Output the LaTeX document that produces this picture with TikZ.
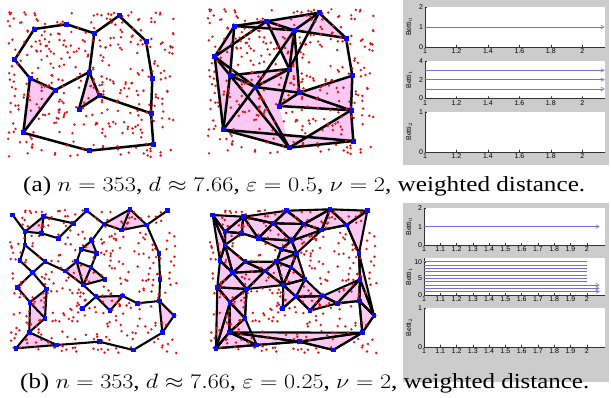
\documentclass[tikz,border=0pt]{standalone}
\usepackage[no-math]{fontspec}
\usepackage{graphicx}
\setmainfont{Liberation Serif}
\newfontfamily\axfont{Liberation Sans}
\definecolor{pinkfill}{RGB}{250,200,242}
\definecolor{dotred}{RGB}{225,20,20}
\definecolor{vtxblue}{RGB}{10,10,245}
\definecolor{figgrey}{RGB}{204,204,204}
\definecolor{barblue}{RGB}{112,112,215}

% landmark vertices, row (a) and row (b)
\newcommand{\vlista}{1/34.3/29, 2/66.7/24.3, 3/94.3/33.3, 4/119/15.7, 5/146/41, 6/152.3/78.7,
  7/151/113.3, 8/153.3/144, 9/89.3/150.7, 10/23.3/132.7, 11/30/78.3, 12/14.7/59.7,
  13/55.3/90, 14/89.3/72, 15/99.3/95.7, 16/79/109}
\newcommand{\vlistb}{1/12.7/215, 2/43.3/216.7, 3/25/231.7, 4/41.7/233.3, 5/58.3/238.3,
  6/73.3/223.3, 7/86.7/210.7, 8/104/224, 9/130/209.3, 10/121.7/230, 11/146.7/225,
  12/167.3/210.7, 13/91.7/240.7, 14/25/245, 15/81/249.3, 16/96.7/253.3, 17/20/260.7,
  18/45/261.7, 19/76.7/261.7, 21/65/271, 22/91/267.3, 23/32.7/272.7, 24/105/279.3,
  25/83.3/285, 26/17.3/287.3, 27/46.7/289, 28/159/253.3, 29/160/279.3, 30/96/296.7,
  31/122.7/296, 32/137.3/303.3, 33/159.3/301, 34/110/310.7, 35/82.7/308.3, 36/30/302.3,
  37/45/318.3, 38/174/315.7, 39/29.3/332.3, 40/162.3/332.7, 41/16/348.3, 42/56.7/345,
  43/99.3/341.7, 44/133.3/350}
\newcommand{\edgesb}{1/3, 3/2, 2/4, 3/4, 2/6, 4/5, 5/6, 6/7, 7/8, 8/9, 8/10, 9/10, 9/11,
  10/11, 11/12, 11/28, 28/29, 29/33, 33/38, 38/40, 33/40, 40/44, 44/43, 43/42, 42/41,
  41/39, 39/42, 39/37, 39/36, 36/37, 36/27, 27/37, 36/26, 26/23, 23/27, 23/17, 17/14,
  14/3, 14/18, 18/23, 18/21, 21/19, 21/25, 19/25, 19/15, 15/13, 13/8, 13/16, 15/16,
  16/22, 22/19, 22/25, 22/24, 24/25, 25/30, 30/31, 31/34, 30/34, 35/30, 31/32, 32/33}

% point cloud: seed, xmin, xmax, ymin, ymax
\newcommand{\cloud}[5]{%
  \pgfmathsetseed{#1}
  \foreach \i in {1,...,353}{
    \pgfmathsetmacro\cx{#2+rnd*(#3-#2)}
    \pgfmathsetmacro\cy{#4+rnd*(#5-#4)}
    \fill[dotred] (\cx,\cy) circle (1.35);}}

% barcode axes: top, bottom, index, yticks
\newcommand{\bettiframe}[4]{%
  \fill[white] (\xl,#1) rectangle (605,#2);
  \draw[axline] (\xl,#1) -- (\xl,#2) -- (605,#2);
  \foreach \i/\v in \xticklist{
    \draw[axline] ({\xl+\i*\xs},#2) -- ++(0,-1.8);
    \node[ticklab,anchor=north] at ({\xl+\i*\xs},{#2+1.2}) {\v};}
  \foreach \f/\l in {#4}{
    \draw[axline] (\xl,{#2-\f*(#2-#1)}) -- ++(1.8,0);
    \node[ticklab,anchor=east] at ({\xl-1.2},{#2-\f*(#2-#1)}) {\l};}
  \node[ticklab,rotate=90] at (409,{(#1+#2)/2}) {Betti$_{#3}$};}
\newcommand{\barend}[2]{\draw[barblue,line width=0.45pt]
  ({#1-1.7},{#2-1.8}) -- ({#1+1.7},#2) -- ({#1-1.7},{#2+1.8}) -- cycle;}

\begin{document}
\begin{tikzpicture}[x=1pt,y=-1pt,line join=round,line cap=round,
    edge/.style={line width=2.5pt},
    edgeb/.style={line width=2.1pt},
    axline/.style={line width=0.35pt,black!80},
    ticklab/.style={font=\axfont\fontsize{7}{8}\selectfont,inner sep=0.5pt},
    bar/.style={barblue,line width=0.8pt},
    captxt/.style={font=\fontsize{21.5}{24}\selectfont,inner sep=0pt}]
\useasboundingbox (0,0) rectangle (611,397);

% (a) left: complex
\begin{scope}
  \foreach \n/\x/\y in \vlista {\coordinate (a\n) at (\x,\y);}
  \foreach \p/\q/\r in {11/13/10, 14/15/16}
    \fill[pinkfill] (a\p) -- (a\q) -- (a\r) -- cycle;
  \foreach \p/\q in {12/1,1/2,2/3,3/4,4/5,5/6,6/7,7/8,8/9,9/10,10/11,11/12,11/13,13/10,
      13/14,14/3,14/15,14/16,16/15,15/7}
    \draw[edge] (a\p) -- (a\q);
  \cloud{11}{8}{175}{12}{157}
  \foreach \n/\x/\y in \vlista {\fill[vtxblue] (a\n) ++(-2.5,-2.5) rectangle ++(5,5);}
\end{scope}

% (a) middle: complex
\begin{scope}[shift={(200,-3)}]
  \foreach \n/\x/\y in \vlista {\coordinate (a\n) at (\x,\y);}
  \foreach \p/\q/\r in {12/1/11, 12/11/10, 11/13/10, 10/13/9, 10/9/8, 9/7/8, 11/13/14,
      13/14/15, 15/6/7, 13/15/16, 13/16/9, 16/15/7, 1/2/3, 2/3/4, 3/4/5, 2/3/14, 3/14/15}
    \fill[pinkfill] (a\p) -- (a\q) -- (a\r) -- cycle;
  \foreach \p/\q in {12/1,1/2,2/3,3/4,4/5,5/6,6/7,7/8,8/9,9/10,10/11,11/12,12/10,1/11,
      2/4,12/2,2/14,3/14,3/15,4/14,3/5,11/14,11/13,12/13,13/14,13/15,13/9,13/10,11/9,
      14/16,15/6,15/7,16/7,16/15,10/8,9/7,3/13,1/3}
    \draw[edge] (a\p) -- (a\q);
  \cloud{11}{8}{175}{12}{157}
  \foreach \n/\x/\y in \vlista {\fill[vtxblue] (a\n) ++(-2.5,-2.5) rectangle ++(5,5);}
\end{scope}

% (b) left: complex
\begin{scope}
  \foreach \n/\x/\y in \vlistb {\coordinate (b\n) at (\x,\y);}
  \foreach \p/\q/\r in {2/3/4, 8/9/10, 9/10/11, 13/15/16, 19/21/25, 19/22/25, 22/24/25,
      30/31/34, 36/27/37, 36/37/39, 39/41/42, 33/38/40}
    \fill[pinkfill] (b\p) -- (b\q) -- (b\r) -- cycle;
  \foreach \p/\q in \edgesb
    \draw[edgeb] (b\p) -- (b\q);
  \cloud{27}{10}{177}{210}{353}
  \foreach \n/\x/\y in \vlistb {\fill[vtxblue] (b\n) ++(-2.4,-2.4) rectangle ++(4.8,4.8);}
\end{scope}

% (b) middle: complex
\begin{scope}[shift={(200,0)}]
  \foreach \n/\x/\y in \vlistb {\coordinate (b\n) at (\x,\y);}
  \foreach \p/\q/\r in {1/2/3, 2/3/4, 2/4/5, 2/5/6, 2/6/7, 6/7/8, 7/8/9, 8/9/10, 9/10/11,
      9/11/12, 11/12/28, 1/3/14, 3/4/14, 1/14/17, 14/17/23, 14/18/23, 17/23/26, 23/26/27,
      26/27/36, 27/36/37, 26/36/41, 36/39/41, 36/37/39, 37/39/42, 39/41/42, 39/42/43,
      39/43/40, 43/44/40, 28/29/38, 29/33/38, 33/38/40, 29/32/33, 24/30/31, 30/31/34,
      31/32/34, 29/31/32, 5/6/13, 6/8/13, 8/10/13, 5/13/15, 13/15/16, 10/13/16, 16/22/24,
      15/16/19, 16/19/22, 18/19/21, 18/21/23, 21/23/27, 21/25/27, 19/21/25, 19/22/25,
      22/24/25, 24/25/30, 25/30/35}
    \fill[pinkfill] (b\p) -- (b\q) -- (b\r) -- cycle;
  \foreach \p/\q/\r in {1/2/3, 2/3/4, 2/4/5, 2/5/6, 2/6/7, 6/7/8, 7/8/9, 8/9/10, 9/10/11,
      9/11/12, 11/12/28, 1/3/14, 3/4/14, 1/14/17, 14/17/23, 14/18/23, 17/23/26, 23/26/27,
      26/27/36, 27/36/37, 26/36/41, 36/39/41, 36/37/39, 37/39/42, 39/41/42, 39/42/43,
      39/43/40, 43/44/40, 28/29/38, 29/33/38, 33/38/40, 29/32/33, 24/30/31, 30/31/34,
      31/32/34, 29/31/32, 5/6/13, 6/8/13, 8/10/13, 5/13/15, 13/15/16, 10/13/16, 16/22/24,
      15/16/19, 16/19/22, 18/19/21, 18/21/23, 21/23/27, 21/25/27, 19/21/25, 19/22/25,
      22/24/25, 24/25/30, 25/30/35}
    \draw[edgeb] (b\p) -- (b\q) -- (b\r) -- cycle;
  \foreach \p/\q in \edgesb
    \draw[edgeb] (b\p) -- (b\q);
  \cloud{27}{10}{177}{210}{353}
  \foreach \n/\x/\y in \vlistb {\fill[vtxblue] (b\n) ++(-2.4,-2.4) rectangle ++(4.8,4.8);}
\end{scope}

% (a) barcodes
\fill[figgrey] (403,0) rectangle (608.5,165);
\def\xl{425}\def\xs{31.46}
\def\xticklist{0/1,1/1.2,2/1.4,3/1.6,4/1.8,5/2}
\bettiframe{7.3}{46.7}{0}{0/0,0.5/1,1/2}
\bettiframe{61}{98.3}{1}{0/0,0.5/2,1/4}
\bettiframe{111.7}{151.7}{2}{0/0,1/1}
\draw[bar] (425,27) -- (602.7,27); \barend{602.7}{27}
\foreach \y in {70.3,79.7,89} {\draw[bar] (425,\y) -- (602.7,\y); \barend{602.7}{\y}}

% (b) barcodes
\fill[figgrey] (403,203) rectangle (608.5,382);
\def\xl{424}\def\xs{16.27}
\def\xticklist{0/1,1/1.1,2/1.2,3/1.3,4/1.4,5/1.5,6/1.6,7/1.7,8/1.8,9/1.9,10/2}
\bettiframe{208.3}{245}{0}{0/0,0.5/1,1/2}
\bettiframe{258.3}{295}{1}{0/0,0.454/5,0.907/10}
\bettiframe{308.3}{346.7}{2}{0/0,1/1}
\draw[bar] (424,226.7) -- (597.7,226.7); \barend{597.7}{226.7}
\foreach \k in {4,...,10} {\draw[bar] (424,{295-\k*3.33}) -- (586.7,{295-\k*3.33});}
\foreach \k in {1,2,3} {\draw[bar] (424,{295-\k*3.33}) -- (597.7,{295-\k*3.33});
  \barend{597.7}{295-\k*3.33}}

% captions
\node[captxt,anchor=base west] (capa) at (23,191.7)
  {\resizebox{562pt}{\height}{(a) $n=353$, $d\approx7.66$, $\varepsilon=0.5$, $\nu=2$, weighted distance.}};
\node[captxt,anchor=base west] (capb) at (20,388.3)
  {\resizebox{569pt}{\height}{(b) $n=353$, $d\approx7.66$, $\varepsilon=0.25$, $\nu=2$, weighted distance.}};
\end{tikzpicture}
\end{document}
